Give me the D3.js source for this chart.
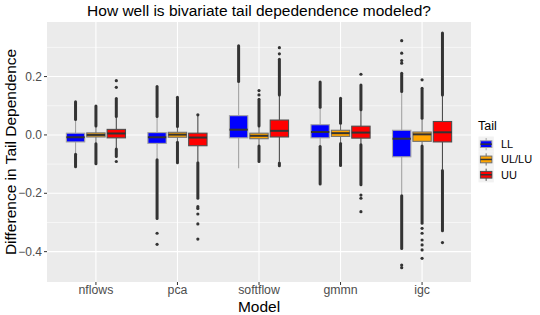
<!DOCTYPE html>
<html><head><meta charset="utf-8">
<script src="https://cdn.jsdelivr.net/npm/d3@7"></script>
<style>body{margin:0;background:#fff}svg{display:block;font-family:"Liberation Sans",Arial,sans-serif}</style>
</head><body><svg id="c" width="540" height="315"></svg>
<script>
const models = ["nflows","pca","softflow","gmmn","igc"];
const tails = ["LL","UL/LU","UU"];
const tailColors = ["#0000FF","#FFA500","#FF0000"];
const yTicks = [0.2, 0.0, -0.2, -0.4];
// per model, per tail [LL, UL/LU, UU]
const whiskerLow = [[-0.063,-0.028,-0.045],[-0.082,-0.022,-0.092],[-0.114,-0.035,-0.092],[-0.038,-0.026,-0.031],[-0.205,-0.035,-0.119]];
const q1 = [[-0.024,-0.007,-0.010],[-0.029,-0.008,-0.037],[-0.010,-0.013,-0.007],[-0.010,-0.005,-0.011],[-0.075,-0.022,-0.024]];
const median = [[-0.008,0.000,0.005],[-0.008,0.001,-0.009],[0.018,-0.003,0.014],[0.010,0.006,0.008],[-0.013,0.002,0.009]];
const q3 = [[0.006,0.007,0.019],[0.008,0.009,0.006],[0.066,0.006,0.051],[0.035,0.016,0.030],[0.016,0.010,0.046]];
const whiskerHigh = [[0.050,0.028,0.061],[0.060,0.026,0.066],[0.180,0.028,0.134],[0.092,0.037,0.083],[0.146,0.054,0.134]];
// dense outlier runs: [model, tail, from, to]
const outlierRuns = [
  [0,0,0.053,0.114],[0,0,-0.066,-0.109],[0,1,0.031,0.099],[0,1,-0.030,-0.099],[0,2,0.063,0.125],[0,2,-0.048,-0.074],
  [1,0,0.063,0.166],[1,0,-0.085,-0.286],[1,1,0.029,0.129],[1,1,-0.025,-0.095],[1,2,-0.095,-0.217],
  [2,0,0.183,0.306],[2,1,0.031,0.122],[2,1,-0.038,-0.091],[2,2,0.137,0.259],[2,2,-0.096,-0.106],
  [3,0,0.095,0.181],[3,0,-0.040,-0.168],[3,1,0.040,0.126],[3,1,-0.029,-0.105],[3,2,0.086,0.171],[3,2,-0.034,-0.171],
  [4,0,0.149,0.211],[4,0,-0.208,-0.389],[4,1,0.057,0.160],[4,1,-0.038,-0.303],[4,2,0.137,0.349],[4,2,-0.122,-0.328]
];
// isolated outliers: [model, tail, value]
const outlierPoints = [
  [0,2,0.163],[0,2,0.186],[0,2,-0.091],
  [1,0,-0.337],[1,0,-0.375],[1,2,0.069],[1,2,-0.246],[1,2,-0.252],[1,2,-0.271],[1,2,-0.305],[1,2,-0.357],
  [2,1,0.137],[2,1,0.152],[2,2,0.278],[2,2,0.299],
  [3,2,0.208],[3,2,-0.206],[3,2,-0.217],[3,2,-0.263],
  [4,0,0.246],[4,0,0.255],[4,0,0.280],[4,0,0.323],[4,0,-0.446],[4,0,-0.455],
  [4,1,0.189],[4,1,-0.320],[4,1,-0.337],[4,1,-0.360],[4,1,-0.377],[4,1,-0.394],[4,1,-0.423],
  [4,2,-0.369]
];
const lineColors = ["#a3a3a3","#707070","#4d4d4d"];

const svg = d3.select("#c");
const L = 47, R = 471, T = 22, B = 282;
// ggplot-like discrete scale: 0.6 units of expansion on each side
const x = d3.scalePoint().domain(models).range([L, R]).padding(0.6);
const xc = i => x(models[i]);
const unit = x.step();
const y = d3.scaleLinear().domain([-0.504, 0.387]).range([B, T]);
const dodge = unit * 0.25;
const bw = dodge * 0.9;
const off = t => (t - 1) * dodge;

svg.append("rect").attr("x", L).attr("y", T).attr("width", R - L).attr("height", B - T).attr("fill", "#EBEBEB");
const minor = [0.3, 0.1, -0.1, -0.3];
svg.selectAll(".mg").data(minor).enter().append("line")
  .attr("x1", L).attr("x2", R).attr("y1", d => y(d)).attr("y2", d => y(d))
  .attr("stroke", "#fff").attr("stroke-width", 0.55);
svg.selectAll(".Mg").data(yTicks).enter().append("line")
  .attr("x1", L).attr("x2", R).attr("y1", d => y(d)).attr("y2", d => y(d))
  .attr("stroke", "#fff").attr("stroke-width", 1.1);
svg.selectAll(".vg").data(models).enter().append("line")
  .attr("x1", d => x(d)).attr("x2", d => x(d)).attr("y1", T).attr("y2", B)
  .attr("stroke", "#fff").attr("stroke-width", 1.1);

// axes
const fmt = d => (d < 0 ? "\u2212" : "") + Math.abs(d).toFixed(1);
const ya = svg.append("g");
yTicks.forEach(v => {
  ya.append("line").attr("x1", L - 3).attr("x2", L).attr("y1", y(v)).attr("y2", y(v)).attr("stroke", "#333").attr("stroke-width", 1);
  ya.append("text").attr("x", L - 5).attr("y", y(v)).attr("dy", "0.35em").attr("text-anchor", "end")
    .attr("font-size", 12).attr("fill", "#4D4D4D").text(fmt(v));
});
models.forEach((m, i) => {
  svg.append("line").attr("x1", xc(i)).attr("x2", xc(i)).attr("y1", B).attr("y2", B + 3).attr("stroke", "#333");
  svg.append("text").attr("x", xc(i)).attr("y", B + 12).attr("text-anchor", "middle")
    .attr("font-size", 12.3).attr("fill", "#4D4D4D").text(m);
});

// boxes
models.forEach((m, i) => {
  tails.forEach((t, j) => {
    const cx = xc(i) + off(j), lc = lineColors[j];
    const g = svg.append("g");
    g.append("line").attr("x1", cx).attr("x2", cx).attr("y1", y(q3[i][j])).attr("y2", y(whiskerHigh[i][j])).attr("stroke", lc).attr("stroke-width", 1.1);
    g.append("line").attr("x1", cx).attr("x2", cx).attr("y1", y(q1[i][j])).attr("y2", y(whiskerLow[i][j])).attr("stroke", lc).attr("stroke-width", 1.1);
    g.append("rect").attr("x", cx - bw / 2).attr("width", bw).attr("y", y(q3[i][j])).attr("height", y(q1[i][j]) - y(q3[i][j]))
      .attr("fill", tailColors[j]).attr("stroke", lc).attr("stroke-width", 1.1);
    g.append("line").attr("x1", cx - bw / 2).attr("x2", cx + bw / 2).attr("y1", y(median[i][j])).attr("y2", y(median[i][j]))
      .attr("stroke", "#333").attr("stroke-width", 2);
  });
});
// outliers
svg.selectAll(".run").data(outlierRuns).enter().append("line")
  .attr("x1", d => xc(d[0]) + off(d[1])).attr("x2", d => xc(d[0]) + off(d[1]))
  .attr("y1", d => y(d[2])).attr("y2", d => y(d[3]))
  .attr("stroke", "#333").attr("stroke-width", 3).attr("stroke-linecap", "round");
svg.selectAll(".pt").data(outlierPoints).enter().append("circle")
  .attr("cx", d => xc(d[0]) + off(d[1])).attr("cy", d => y(d[2])).attr("r", 1.6).attr("fill", "#333");

// titles
svg.append("text").attr("x", (L + R) / 2).attr("y", 16).attr("text-anchor", "middle").attr("font-size", 15.5).attr("fill", "#000")
  .text("How well is bivariate tail depedendence modeled?");
svg.append("text").attr("x", (L + R) / 2).attr("y", 311.5).attr("text-anchor", "middle").attr("font-size", 15.5).attr("fill", "#000").text("Model");
svg.append("text").attr("transform", `translate(16,${(T + B) / 2}) rotate(-90)`).attr("text-anchor", "middle").attr("font-size", 15.5).attr("fill", "#000")
  .text("Difference in Tail Dependence");

// legend
const lg = svg.append("g");
lg.append("text").attr("x", 478).attr("y", 130).attr("font-size", 12.5).attr("fill", "#000").text("Tail");
tails.forEach((t, j) => {
  const ky = 136.5 + j * 15.3, kx = 478.5, ks = 15.3;
  lg.append("rect").attr("x", kx).attr("y", ky).attr("width", ks).attr("height", ks).attr("fill", "#F2F2F2");
  const cx = kx + ks / 2;
  lg.append("line").attr("x1", cx).attr("x2", cx).attr("y1", ky + ks * 0.1).attr("y2", ky + ks * 0.9).attr("stroke", lineColors[j]).attr("stroke-width", 1);
  lg.append("rect").attr("x", kx + ks * 0.125).attr("width", ks * 0.75).attr("y", ky + ks * 0.28).attr("height", ks * 0.44)
    .attr("fill", tailColors[j]).attr("stroke", lineColors[j]).attr("stroke-width", 1);
  lg.append("line").attr("x1", kx + ks * 0.125).attr("x2", kx + ks * 0.875).attr("y1", ky + ks / 2).attr("y2", ky + ks / 2).attr("stroke", "#333").attr("stroke-width", 1.5);
  lg.append("text").attr("x", 501).attr("y", ky + ks / 2).attr("dy", "0.35em").attr("font-size", 11).attr("fill", "#000").text(t);
});
</script></body></html>
